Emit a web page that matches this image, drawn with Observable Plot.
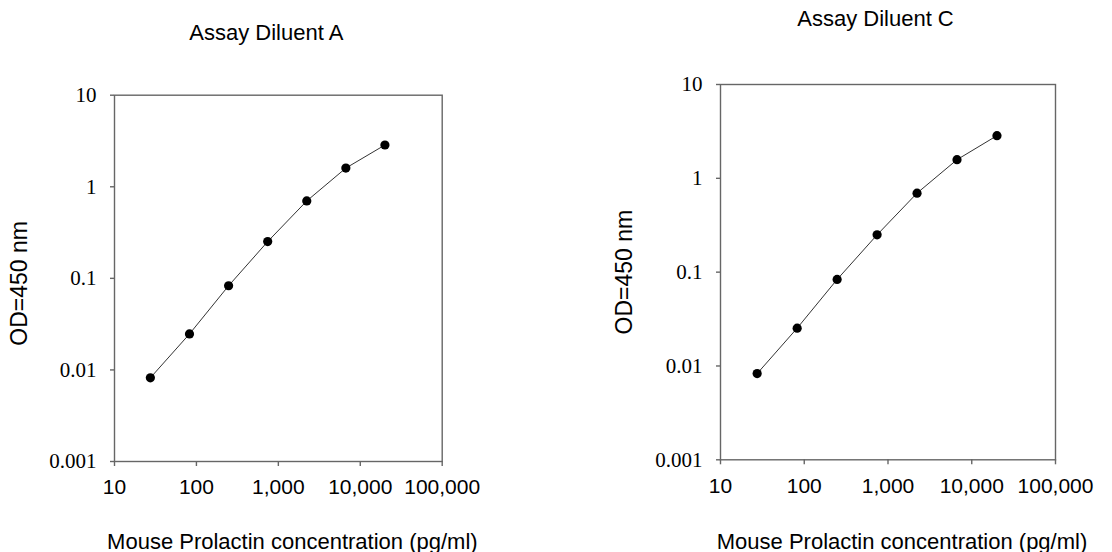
<!DOCTYPE html>
<html>
<head>
<meta charset="utf-8">
<script src="https://cdn.jsdelivr.net/npm/d3@7"></script>
<script src="https://cdn.jsdelivr.net/npm/@observablehq/plot@0.6"></script>
<style>
  body { margin: 0; background: #fff; }
  #wrap { display: flex; width: 1112px; height: 552px; overflow: hidden; background: #fff; }
  #wrap svg { overflow: visible; }
</style>
</head>
<body>
<div id="wrap"></div>
<script>
const concentration = [27.4, 82.3, 247, 741, 2222, 6667, 20000];
const odDiluentA = [0.0082, 0.0247, 0.083, 0.252, 0.70, 1.60, 2.86];
const odDiluentC = [0.0083, 0.0253, 0.0836, 0.250, 0.695, 1.58, 2.85];
const xTicks = [10, 100, 1000, 10000, 100000];
const yTicks = [0.001, 0.01, 0.1, 1, 10];
const yTickLabels = ["0.001", "0.01", "0.1", "1", "10"];
const titles = ["Assay Diluent A", "Assay Diluent C"];
const xLabel = "Mouse Prolactin concentration (pg/ml)";
const yLabel = "OD=450 nm";

const SANS = "'Liberation Sans', Arial, Helvetica, sans-serif";
const SERIF = "'Liberation Serif', 'Times New Roman', serif";

function panel(title, values, g) {
  const data = concentration.map((c, i) => ({c, od: values[i]}));
  return Plot.plot({
    width: 556,
    height: 552,
    marginLeft: g.left,
    marginRight: g.right,
    marginTop: g.top,
    marginBottom: g.bottom,
    style: {background: "transparent", color: "#000", overflow: "visible"},
    x: {type: "log", domain: [10, 100000]},
    y: {type: "log", domain: [0.001, 10]},
    marks: [
      Plot.frame({stroke: "#666", strokeWidth: 1.4}),
      Plot.axisX({
        ticks: xTicks, tickFormat: d3.format(","), tickSize: 5, tickPadding: 13,
        fontSize: 21, fontFamily: SANS, stroke: "#666", strokeWidth: 1.4, label: null
      }),
      Plot.axisY({
        ticks: yTicks, tickFormat: (d) => yTickLabels[yTicks.indexOf(d)], tickSize: 4, tickPadding: 14,
        fontSize: 21, fontFamily: SERIF, stroke: "#666", strokeWidth: 1.4, label: null
      }),
      Plot.line(data, {x: "c", y: "od", stroke: "#333", strokeWidth: 1}),
      Plot.dot(data, {x: "c", y: "od", r: 4.6, fill: "#000", stroke: "none"}),
      Plot.text([title], {
        frameAnchor: "top", lineAnchor: "bottom", dy: g.titleDy, dx: g.titleDx,
        text: d => d, fontSize: 22, fontFamily: SANS, fill: "#000"
      }),
      Plot.text([xLabel], {
        frameAnchor: "bottom", lineAnchor: "bottom", dy: g.xlDy, dx: g.xlDx,
        text: d => d, fontSize: 22, fontFamily: SANS, fill: "#000"
      }),
      Plot.text([yLabel], {
        frameAnchor: "left", rotate: -90, textAnchor: "middle", lineAnchor: "middle",
        dx: g.ylDx, dy: g.ylDy, text: d => d, fontSize: 23, fontFamily: SANS, fill: "#000"
      })
    ]
  });
}

const wrap = document.getElementById("wrap");
wrap.appendChild(panel(titles[0], odDiluentA, {
  left: 114, right: 114.3, top: 94.7, bottom: 91,
  titleDy: -54.7, titleDx: -12, xlDy: 87, xlDx: 14, ylDx: -95, ylDy: 5
}));
wrap.appendChild(panel(titles[1], odDiluentC, {
  left: 164, right: 57, top: 84, bottom: 92.7,
  titleDy: -59, titleDx: -12.5, xlDy: 88.7, xlDx: 14, ylDx: -96, ylDy: 0
}));
</script>
</body>
</html>
